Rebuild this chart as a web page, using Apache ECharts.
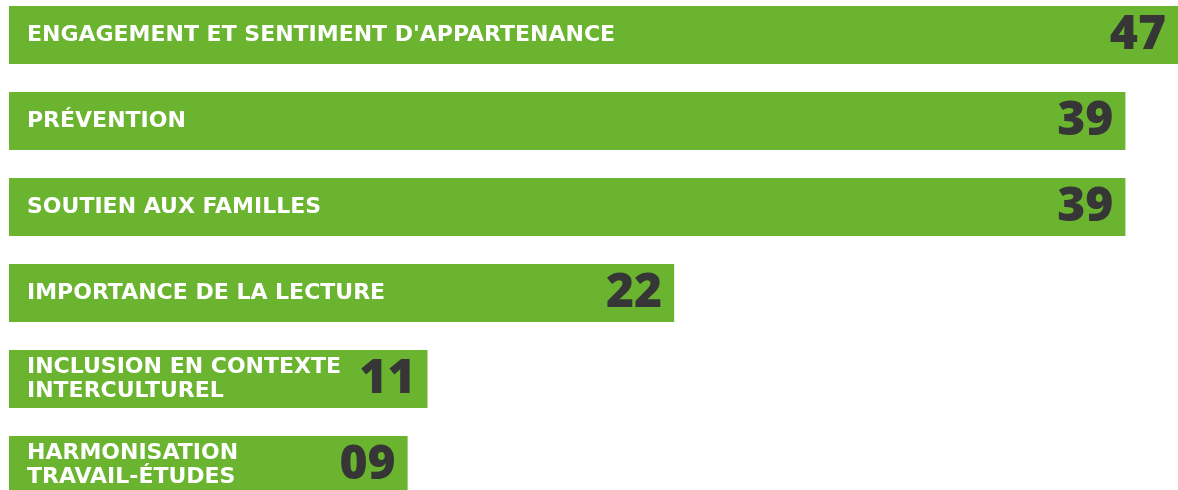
<!DOCTYPE html>
<html>
<head>
<meta charset="utf-8">
<script src="https://cdn.jsdelivr.net/npm/echarts@6/dist/echarts.min.js"></script>
<style>
  html, body { margin: 0; padding: 0; background: #ffffff; overflow: hidden; }
  /* la grille déborde un peu en haut et en bas, comme dans l'infographie */
  #chart { width: 1178px; height: 516px; margin-top: -8px; }
</style>
</head>
<body>
<div id="chart"></div>
<script>
  const categories = [
    "ENGAGEMENT ET SENTIMENT D'APPARTENANCE",
    "PRÉVENTION",
    "SOUTIEN AUX FAMILLES",
    "IMPORTANCE DE LA LECTURE",
    "INCLUSION EN CONTEXTE\nINTERCULTUREL",
    "HARMONISATION\nTRAVAIL-ÉTUDES",
  ];
  // nombre affiché sur chaque barre
  const values = [47, 39, 39, 22, 11, 9];
  const valueLabels = ["47", "39", "39", "22", "11", "09"];
  // longueur de barre telle que dessinée dans l'infographie (% de la plus longue)
  const barLength = [100, 95.5, 95.5, 56.9, 35.8, 34.1];

  const green = "#6ab42f";
  const dark = "#363636";

  const chart = echarts.init(document.getElementById("chart"));
  chart.setOption({
    animation: false,
    grid: {
      left: 9,
      right: 0,
      top: 0,
      bottom: 0,
    },
    xAxis: {
      type: "value",
      min: 0,
      max: 100,
      show: false,
    },
    yAxis: {
      type: "category",
      data: categories,
      inverse: true,
      show: false,
    },
    series: [
      {
        name: "Thèmes",
        type: "bar",
        data: barLength,
        barWidth: 58,
        itemStyle: { color: green },
        label: {
          show: true,
          position: "insideLeft",
          distance: 18,
          formatter: (p) => categories[p.dataIndex],
          color: "#ffffff",
          fontFamily: "'DejaVu Sans', sans-serif",
          fontWeight: "bold",
          fontSize: 22,
          lineHeight: 24,
        },
      },
      {
        name: "Valeur",
        type: "bar",
        data: barLength,
        barWidth: 58,
        barGap: "-100%",
        itemStyle: { color: "transparent" },
        label: {
          show: true,
          position: "insideRight",
          distance: 12,
          formatter: (p) => valueLabels[p.dataIndex],
          color: dark,
          fontFamily: "'Open Sans', sans-serif",
          fontWeight: 800,
          fontSize: 48,
        },
      },
    ],
  });
</script>
</body>
</html>
